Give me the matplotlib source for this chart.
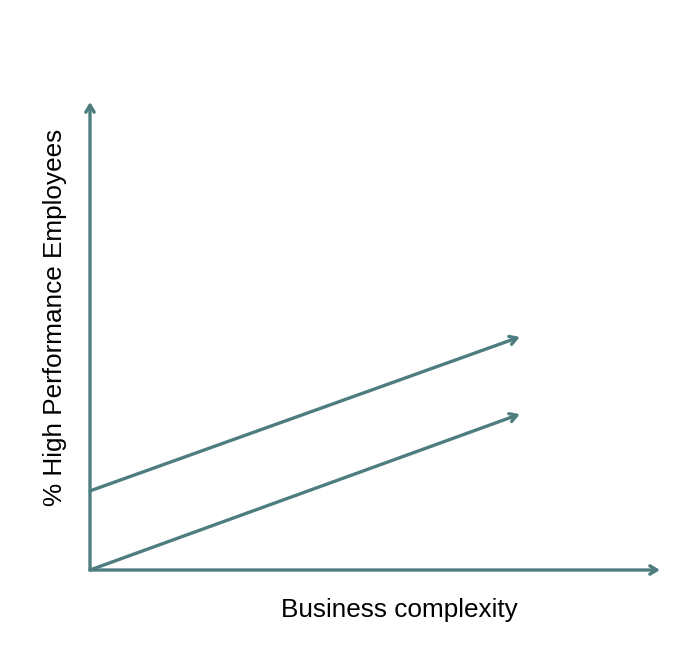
import matplotlib
matplotlib.use('Agg')
import matplotlib.pyplot as plt

# conceptual chart: axes are 0..1, both lines rise with complexity
x_start = [0.0, 0.0]
x_end = [0.754, 0.754]
y_start = [0.169, 0.0]
y_end = [0.498, 0.333]

color = '#4e7d80'
plt.rcParams['font.family'] = ['Liberation Sans', 'DejaVu Sans']

fig = plt.figure(figsize=(6.92, 6.52), dpi=100)
ax = fig.add_axes([90 / 692, 82 / 652, 570 / 692, 468 / 652])
ax.set_xlim(0, 1)
ax.set_ylim(0, 1)
ax.axis('off')

arrow = dict(arrowstyle='->,head_length=0.5,head_width=0.3', color=color,
             lw=2.4, shrinkA=0, shrinkB=0)

# axes
ax.annotate('', xy=(1.0, 0), xytext=(0, 0), arrowprops=arrow)
ax.annotate('', xy=(0, 1.0), xytext=(0, 0), arrowprops=arrow)

# lines
for xs, ys, xe, ye in zip(x_start, y_start, x_end, y_end):
    ax.annotate('', xy=(xe, ye), xytext=(xs, ys), arrowprops=arrow)

fig.text(399 / 692, 1 - 610 / 652, 'Business complexity', ha='center', va='center', fontsize=18.8)
fig.text(55 / 692, 1 - 317 / 652, '% High Performance Employees', ha='center', va='center',
         rotation=90, fontsize=18.8)

fig.savefig('out.png', dpi=100)
